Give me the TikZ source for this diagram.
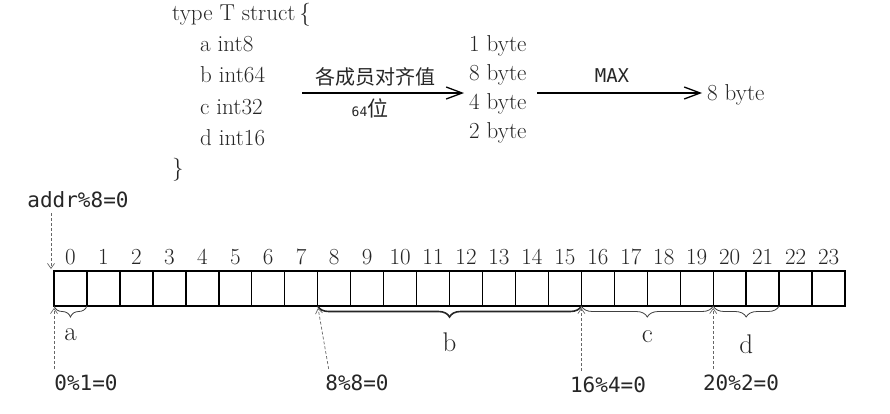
\documentclass[tikz,border=0pt]{standalone}
\usepackage{fontspec}
\newfontfamily\cjk{Noto Sans CJK SC}
\newfontfamily\hand{DejaVu Sans Mono}
\usetikzlibrary{arrows.meta,decorations.pathreplacing,positioning,calc}

\tikzset{
	txt/.style={inner sep=0pt,text=black!85,font=\fontsize{23}{27}\selectfont},
	idx/.style={inner sep=0pt,text=black!85,font=\fontsize{23}{26}\selectfont},
	note/.style={inner sep=0pt,text=black!85,font=\hand\fontsize{21}{24}\selectfont},
	han/.style={inner sep=0pt,text=black!85,font=\cjk\fontsize{20}{24}\selectfont},
	cell/.style={draw,line width=1.4pt,minimum width=32.96pt,minimum height=35pt,inner sep=0pt,outer sep=0pt},
	brace/.style={decorate,decoration={brace,mirror,amplitude=11pt},line width=0.8pt,black!75},
	flow/.style={line width=1.3pt,-{Straight Barb[length=16pt,width=12pt,line width=1.3pt]},shorten >=5pt},
	ptr/.style={densely dashed,line width=0.7pt,black!60,-{Straight Barb[length=5pt,width=7pt]},shorten >=2pt}
}

\newcommand{\fieldbrace}[5]{
	\draw[brace,#5] (c#1.south west) -- (c#2.south east);
	\node[txt,font=\fontsize{27}{30}\selectfont] (l#3) at ($(c#1.south west)!0.5!(c#2.south east)+(0,#4)$) {#3};
}

\begin{document}
\begin{tikzpicture}[x=1pt,y=-1pt]
\useasboundingbox (0,0) rectangle (890,413);

\pgfmathsetmacro{\cellX}{54}
\pgfmathsetmacro{\cellW}{32.96}
\pgfmathsetmacro{\cellY}{288.5}

\node[txt,anchor=base west] (head) at (172,20) {type T struct\,\{};
\foreach \f/\t [count=\k] in {a/int8,b/int64,c/int32,d/int16}
	\node[txt,anchor=base west] (f\f) at (200,{51+31.5*(\k-1)}) {\f\ \t};
\node[txt,anchor=west] (tail) at (172,170) {\}};

\foreach \s [count=\k] in {1,8,4,2}
	\node[txt,anchor=base west] (s\k) at (469,{51+29.3*(\k-1)}) {\s\ byte};
\node[txt,anchor=base west] (res) at (707,100) {8 byte};

\coordinate (a1) at (302,93);
\coordinate (a2) at (537,93);
\draw[flow] (a1) -- (a1 -| s3.west);
\draw[flow] (a2) -- (a2 -| res.west);
\node[han] (why) at (375,77) {各成员对齐值};
\node[han,font=\cjk\fontsize{21}{24}\selectfont] (bits) at (370,108) {{\hand\fontsize{13}{13}\selectfont 64}位};
\node[note,font=\hand\fontsize{19}{22}\selectfont] (max) at (612,76) {MAX};

\foreach \i in {0,...,23}{
	\node[cell] (c\i) at ({\cellX+\cellW*(\i+0.5)},\cellY) {};
	\node[idx,above=6pt of c\i] (n\i) {\i};
}

\fieldbrace{0}{0}{a}{29}{}
\fieldbrace{8}{15}{b}{36}{line width=1.6pt,black!85}
\fieldbrace{16}{19}{c}{31}{}
\fieldbrace{20}{21}{d}{38}{}

\node[note] (addr) at (78,200) {addr\%8=0};
\node[note] (m0) at (86,383) {0\%1=0};
\node[note] (m8) at (357,383) {8\%8=0};
\node[note] (m16) at (608,385) {16\%4=0};
\node[note] (m20) at (741,383) {20\%2=0};

\coordinate (top0) at ($(c0.north west)+(-3,0)$);
\draw[ptr] ($(top0 |- addr.south)+(0,5)$) -- (top0);
\draw[ptr,shorten <=6pt] (c0.south west |- m0.north) -- (c0.south west);
\draw[ptr,shorten <=6pt] ($(c8.south west |- m8.north)+(12,0)$) -- (c8.south west);
\draw[ptr,shorten <=6pt] (c16.south west |- m16.north) -- (c16.south west);
\draw[ptr,shorten <=6pt] (c20.south west |- m20.north) -- (c20.south west);
\end{tikzpicture}
\end{document}
